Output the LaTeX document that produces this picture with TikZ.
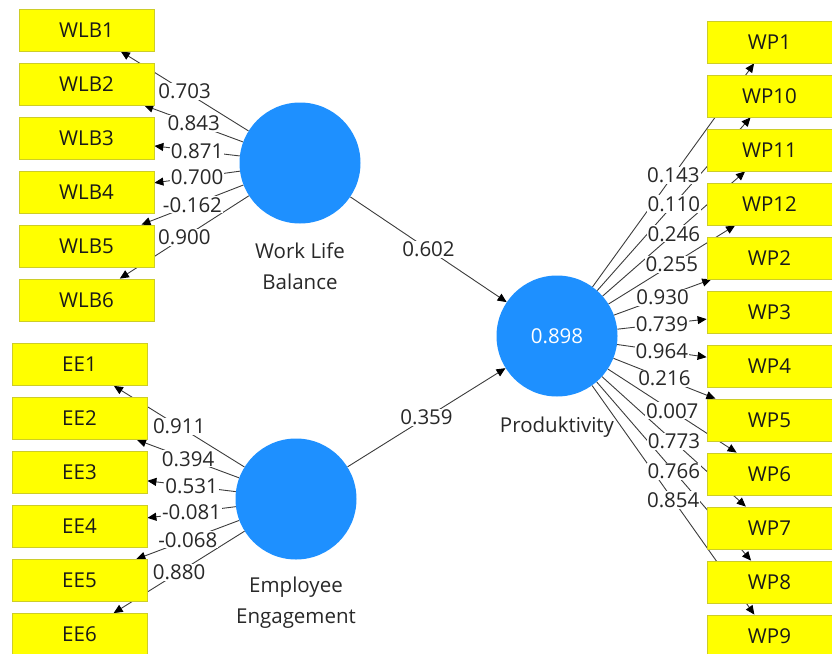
\documentclass[tikz,border=0pt]{standalone}
\usepackage{fontspec}
\setmainfont{Open Sans}
\usetikzlibrary{arrows.meta,backgrounds}
\definecolor{latent}{RGB}{30,144,255}
\definecolor{indic}{RGB}{255,255,0}
\definecolor{indline}{RGB}{205,205,40}
\definecolor{wire}{RGB}{60,60,60}
\definecolor{txt}{RGB}{40,40,40}

\begin{document}
\begin{tikzpicture}[
  x=1pt, y=-1pt, font=\fontsize{20.5}{31}\selectfont,
  >={Triangle[length=9pt,width=8pt,color=black]},
  ind/.style={draw=indline, fill=indic, line width=0.8pt, minimum width=#1,
    minimum height=42pt, inner sep=0pt, text=black!90},
  ind/.default=135pt,
  lat/.style={circle, fill=latent, minimum size=121pt, inner sep=0pt, text=white},
  imp/.style={->, draw=wire, line width=0.9pt},
  lab/.style={fill=white, inner sep=1pt, text=txt},
  latname/.style={text=txt, align=center, inner sep=0pt}]

\useasboundingbox (0,0) rectangle (832,653);

% the constructs
\node[lat] (WLB) at (300,163) {};
\node[lat] (EE)  at (296,499) {};
\node[lat] (P)   at (557,336) {0.898};
\node[latname] (WLBt) at (300,266) {Work Life\\Balance};
\node[latname] (EEt)  at (296,603) {Employee\\Engagement};
\node[latname] (Pt)   at (557,427) {Produktivity};

% work life balance indicators
\foreach \i/\v [count=\k from 0] in {1/0.703,2/0.843,3/0.871,4/0.700,5/-0.162,6/0.900}{
  \node[ind] (WLB\i) at (86.5,30+54*\k) {WLB\i};
  \begin{scope}[on background layer]
    \draw[imp] (WLB) -- (WLB\i);
  \end{scope}
  \path (WLB) -- node[lab] {\v} (WLB\i);
}

% employee engagement indicators
\foreach \i/\v [count=\k from 0] in {1/0.911,2/0.394,3/0.531,4/-0.081,5/-0.068,6/0.880}{
  \node[ind] (EE\i) at (79.5,364.5+54*\k) {EE\i};
  \begin{scope}[on background layer]
    \draw[imp] (EE) -- (EE\i);
  \end{scope}
  \path (EE) -- node[lab] {\v} (EE\i);
}

% produktivity indicators
\foreach \i/\v [count=\k from 0] in {1/0.143,10/0.110,11/0.246,12/0.255,2/0.930,3/0.739,
    4/0.964,5/0.216,6/0.007,7/0.773,8/0.766,9/0.854}{
  \node[ind=125pt] (WP\i) at (769.5,42+54*\k) {WP\i};
  \begin{scope}[on background layer]
    \draw[imp] (P) -- (WP\i);
  \end{scope}
  \path (P) -- node[lab] {\v} (WP\i);
}

% path coefficients
\begin{scope}[on background layer]
  \draw[imp] (WLB) -- (P);
  \draw[imp] (EE) -- (P);
\end{scope}
\path (WLB) -- node[lab] {0.602} (P);
\path (EE) -- node[lab] {0.359} (P);

\end{tikzpicture}
\end{document}
